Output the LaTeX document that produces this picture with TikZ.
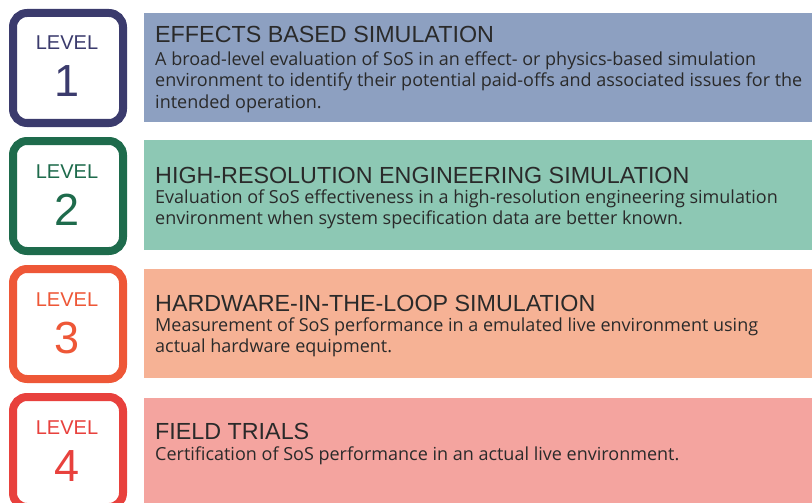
\documentclass[tikz,border=0pt]{standalone}
\usepackage{fontspec}
\setmainfont{Liberation Sans}
\newfontfamily\bodyfont{Open Sans}
\definecolor{lvonec}{HTML}{3B3B6D}
\definecolor{lvtwoc}{HTML}{1E6B4C}
\definecolor{lvthreec}{HTML}{EE5737}
\definecolor{lvfourc}{HTML}{E8413D}
\definecolor{baronec}{HTML}{8DA0C1}
\definecolor{bartwoc}{HTML}{8DC8B4}
\definecolor{barthreec}{HTML}{F6B295}
\definecolor{barfourc}{HTML}{F4A49F}
\definecolor{inkc}{HTML}{2A2A2A}
\begin{document}
\begin{tikzpicture}[x=1pt,y=-1pt,
  levelbox/.style={line width=8pt,rounded corners=14pt,fill=white},
  lvword/.style={font=\fontsize{20}{20}\selectfont,anchor=base,inner sep=0pt},
  lvnum/.style={font=\fontsize{45}{45}\selectfont,anchor=base,inner sep=0pt},
  headtext/.style={font=\fontsize{23.3}{23}\selectfont,text=inkc,anchor=base west,inner sep=0pt},
  % multi-line nodes: the base anchor sits on the last line
  bodytext/.style={font=\bodyfont\fontsize{18}{21.5}\selectfont,text=inkc,anchor=base west,inner sep=0pt,align=left}]
\useasboundingbox (0,0) rectangle (812,503);
\clip (0,0) rectangle (812,503);

% coloured description bars
\fill[baronec]   (144,13)  rectangle (812,122);
\fill[bartwoc]   (144,140) rectangle (812,250);
\fill[barthreec] (144,269) rectangle (812,378);
\fill[barfourc]  (144,398) rectangle (812,508);

% level badges
\draw[levelbox,draw=lvonec]   (13,13)  rectangle (123,123);
\draw[levelbox,draw=lvtwoc]   (13,141) rectangle (123,251);
\draw[levelbox,draw=lvthreec] (13,269) rectangle (123,379);
\draw[levelbox,draw=lvfourc]  (13,397) rectangle (123,507);

\node[lvword,text=lvonec]   (lw1) at (67,50)  {LEVEL};
\node[lvnum,text=lvonec]    (ln1) at (67,97)  {1};
\node[lvword,text=lvtwoc]   (lw2) at (67,178) {LEVEL};
\node[lvnum,text=lvtwoc]    (ln2) at (67,225) {2};
\node[lvword,text=lvthreec] (lw3) at (67,306) {LEVEL};
\node[lvnum,text=lvthreec]  (ln3) at (67,353) {3};
\node[lvword,text=lvfourc]  (lw4) at (67,434) {LEVEL};
\node[lvnum,text=lvfourc]   (ln4) at (67,481) {4};

% headings and descriptions
\node[headtext] (h1) at (155,43) {EFFECTS BASED SIMULATION};
\node[bodytext] (b1) at (155,108) {A broad-level evaluation of SoS in an effect- or physics-based simulation\\environment to identify their potential paid-offs and associated issues for the\\intended operation.};

\node[headtext] (h2) at (155,183) {HIGH-RESOLUTION ENGINEERING SIMULATION};
\node[bodytext] (b2) at (155,224.5) {Evaluation of SoS effectiveness in a high-resolution engineering simulation\\environment when system specification data are better known.};

\node[headtext] (h3) at (155,311) {HARDWARE-IN-THE-LOOP SIMULATION};
\node[bodytext] (b3) at (155,352.5) {Measurement of SoS performance in a emulated live environment using\\actual hardware equipment.};

\node[headtext] (h4) at (155,439) {FIELD TRIALS};
\node[bodytext] (b4) at (155,460) {Certification of SoS performance in an actual live environment.};
\end{tikzpicture}
\end{document}
